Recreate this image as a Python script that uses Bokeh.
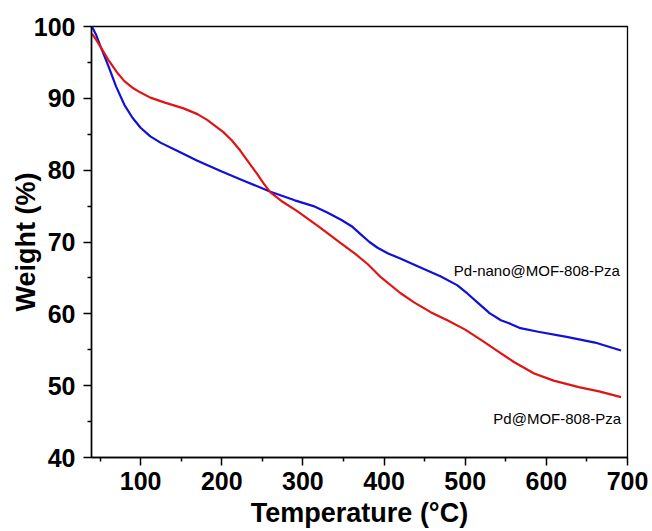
from bokeh.plotting import figure
from bokeh.models import FixedTicker, Label, Range1d
from bokeh.embed import file_html
from bokeh.resources import INLINE

# Pd-nano@MOF-808-Pza (blue)
nano_t = [40, 45, 50, 60, 70, 80, 90, 100, 112, 125, 145, 170, 200, 230, 260,
          290, 313, 330, 347, 360, 371, 382, 392, 405, 420, 440, 470, 490, 503,
          515, 530, 544, 556, 568, 590, 625, 660, 692]
nano_w = [100.0, 98.9, 97.4, 94.6, 91.6, 89.1, 87.3, 85.9, 84.7, 83.8, 82.7,
          81.3, 79.8, 78.4, 77.0, 75.8, 75.0, 74.1, 73.1, 72.2, 71.1, 70.0,
          69.2, 68.4, 67.7, 66.7, 65.2, 64.0, 62.8, 61.6, 60.1, 59.1, 58.6,
          58.0, 57.5, 56.8, 56.0, 54.9]

# Pd@MOF-808-Pza (red)
pd_t = [40, 45, 51, 60, 71, 80, 91, 100, 112, 130, 153, 170, 182, 202, 212, 223,
        235, 244, 252, 260, 275, 293, 320, 347, 365, 380, 396, 420, 437, 458,
        478, 500, 519, 540, 560, 585, 609, 640, 665, 692]
pd_w = [99.0, 98.2, 97.1, 95.4, 93.6, 92.4, 91.4, 90.8, 90.1, 89.4, 88.6, 87.8,
        87.0, 85.3, 84.2, 82.7, 80.8, 79.4, 78.1, 76.9, 75.6, 74.3, 72.1, 69.8,
        68.3, 66.9, 65.1, 62.9, 61.6, 60.2, 59.1, 57.8, 56.4, 54.8, 53.3, 51.7,
        50.7, 49.8, 49.2, 48.4]

x_major = [100, 200, 300, 400, 500, 600, 700]
x_minor = [50, 150, 250, 350, 450, 550, 650]
y_major = [40, 50, 60, 70, 80, 90, 100]
y_minor = [45, 55, 65, 75, 85, 95]

FONT = "Liberation Sans"

p = figure(width=652, height=531, output_backend="svg", toolbar_location=None,
           x_range=Range1d(39.5, 700), y_range=Range1d(40, 100))
p.min_border_left = 91
p.min_border_right = 25
p.min_border_top = 26
p.min_border_bottom = 74
p.background_fill_color = "white"
p.border_fill_color = "white"
p.grid.visible = False
p.outline_line_color = "black"
p.outline_line_width = 1.3
p.outline_line_alpha = 1.0

p.line(nano_t, nano_w, line_color="#1010D8", line_width=2.2)
p.line(pd_t, pd_w, line_color="#E01414", line_width=2.2)

for ax, maj, mnr in ((p.xaxis[0], x_major, x_minor), (p.yaxis[0], y_major, y_minor)):
    ax.ticker = FixedTicker(ticks=maj, minor_ticks=mnr)
    ax.axis_line_width = 1.5
    ax.major_tick_line_width = 1.5
    ax.minor_tick_line_width = 1.5
    ax.major_tick_out = 8
    ax.major_tick_in = 0
    ax.minor_tick_out = 4
    ax.minor_tick_in = 0
    ax.major_label_text_font = FONT
    ax.major_label_text_font_style = "bold"
    ax.major_label_text_font_size = "25px"
    ax.major_label_text_color = "black"
    ax.axis_label_text_font = FONT
    ax.axis_label_text_font_style = "bold"
    ax.axis_label_text_font_size = "27px"
    ax.axis_label_text_color = "black"

p.xaxis.axis_label = "Temperature (°C)"
p.yaxis.axis_label = "Weight (%)"
p.xaxis.major_label_standoff = 6
p.yaxis.major_label_standoff = 8
p.xaxis.axis_label_standoff = 5
p.yaxis.axis_label_standoff = -10

p.add_layout(Label(x=486, y=66.0, text="Pd-nano@MOF-808-Pza", text_font=FONT,
                   text_font_size="15px", text_baseline="middle", text_color="black"))
p.add_layout(Label(x=534.7, y=45.4, text="Pd@MOF-808-Pza", text_font=FONT,
                   text_font_size="15px", text_baseline="middle", text_color="black"))

open("out.html", "w").write(file_html(p, INLINE))
